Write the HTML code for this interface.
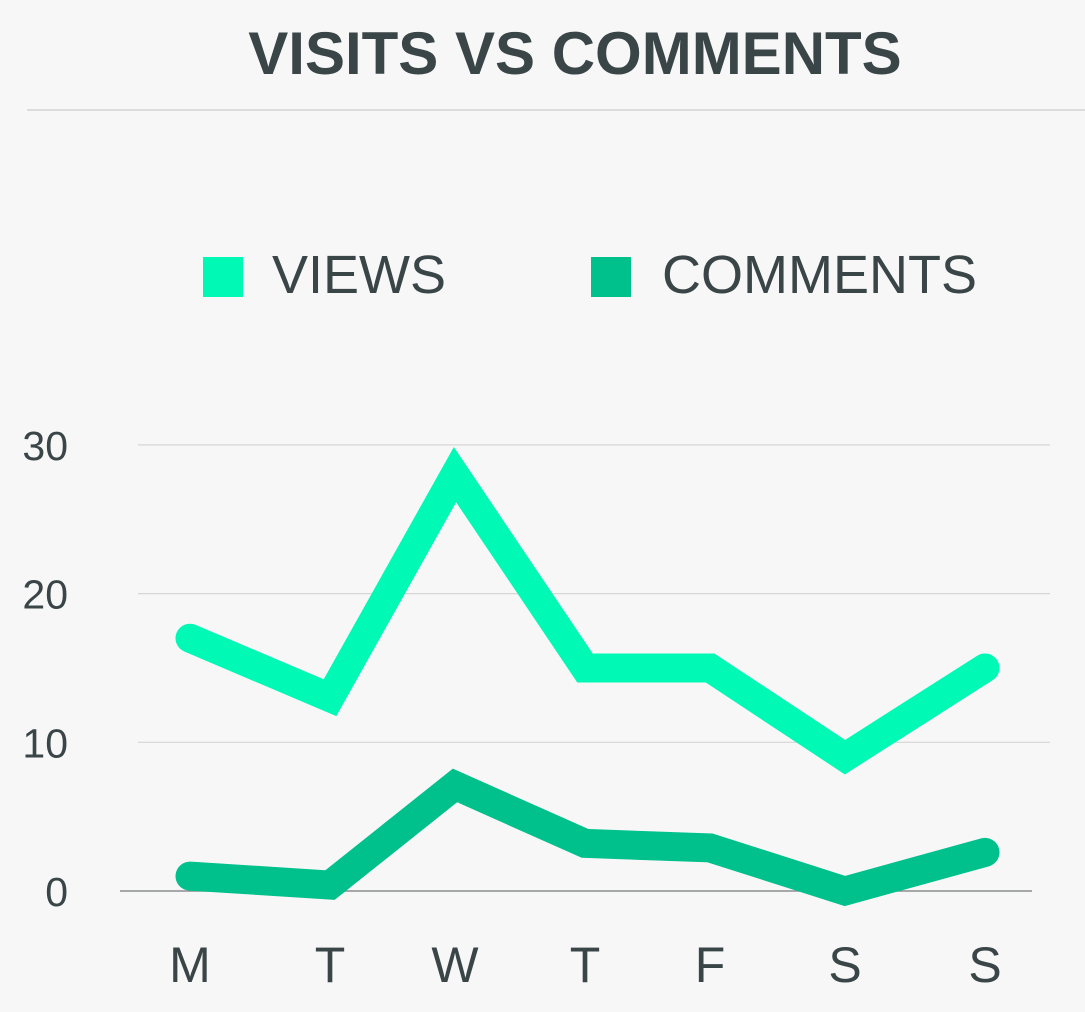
<!DOCTYPE html>
<html><head><meta charset="utf-8">
<style>
html,body{margin:0;padding:0;background:#f7f7f7;}
body{width:1085px;height:1007px;overflow:hidden;font-family:"Liberation Sans",sans-serif;}
</style></head>
<body>
<svg width="1085" height="1007">
<text x="575" y="74" text-anchor="middle" font-size="60" font-weight="bold" fill="#3a4548">VISITS VS COMMENTS</text>
<line x1="27" y1="110" x2="1085" y2="110" stroke="#dcdcdc" stroke-width="2"/>
<g>
<rect x="203" y="257" width="40" height="40" fill="#00f9b4"/>
<text x="272" y="293" font-size="54" fill="#3a4548">VIEWS</text>
<rect x="591" y="257" width="40" height="40" fill="#00c08b"/>
<text x="662" y="293" font-size="54" fill="#3a4548">COMMENTS</text>
</g>
<g id="grid"></g>
<g id="lines"></g>
</svg>
<script>
const categories=["M","T","W","T","F","S","S"];
const views=[17,13,28,15,15,9,15];
const comments=[1,0.4,7.1,3.2,2.9,0,2.6];
const yTicks=[0,10,20,30];
const xPos=[190,330,455,585,710,845,985];
function y(v){return 891-v*14.87;}
function x(i){return xPos[i];}
const NS="http://www.w3.org/2000/svg";
const grid=document.getElementById('grid');
yTicks.forEach(t=>{
  const l=document.createElementNS(NS,'line');
  l.setAttribute('x1',t===0?120:138);l.setAttribute('x2',t===0?1032:1050);
  l.setAttribute('y1',y(t));l.setAttribute('y2',y(t));
  l.setAttribute('stroke',t===0?'#8a8f90':'#d6d6d6');l.setAttribute('stroke-width',t===0?1.5:1.2);
  
  
  grid.appendChild(l);
  const tx=document.createElementNS(NS,'text');
  tx.setAttribute('x',68);tx.setAttribute('y',y(t)+15);tx.setAttribute('text-anchor','end');
  tx.setAttribute('font-size','41');tx.setAttribute('fill','#3a4548');tx.textContent=t;
  
  
  grid.appendChild(tx);
});
categories.forEach((c,i)=>{
  const tx=document.createElementNS(NS,'text');
  tx.setAttribute('x',x(i));tx.setAttribute('y',982);tx.setAttribute('text-anchor','middle');
  tx.setAttribute('font-size','50');tx.setAttribute('fill','#3a4548');tx.textContent=c;
  
  
  grid.appendChild(tx);
});
const lines=document.getElementById('lines');
[[views,'#00f9b4','views-line'],[comments,'#00c08b','comments-line']].forEach(([d,col,name])=>{
  const p=document.createElementNS(NS,'polyline');
  p.setAttribute('points',d.map((v,i)=>x(i)+','+y(v)).join(' '));
  p.setAttribute('fill','none');p.setAttribute('stroke',col);p.setAttribute('stroke-width',29);
  p.setAttribute('stroke-linecap','round');p.setAttribute('stroke-linejoin','miter');
  
  
  lines.appendChild(p);
});
</script>
</body></html>
